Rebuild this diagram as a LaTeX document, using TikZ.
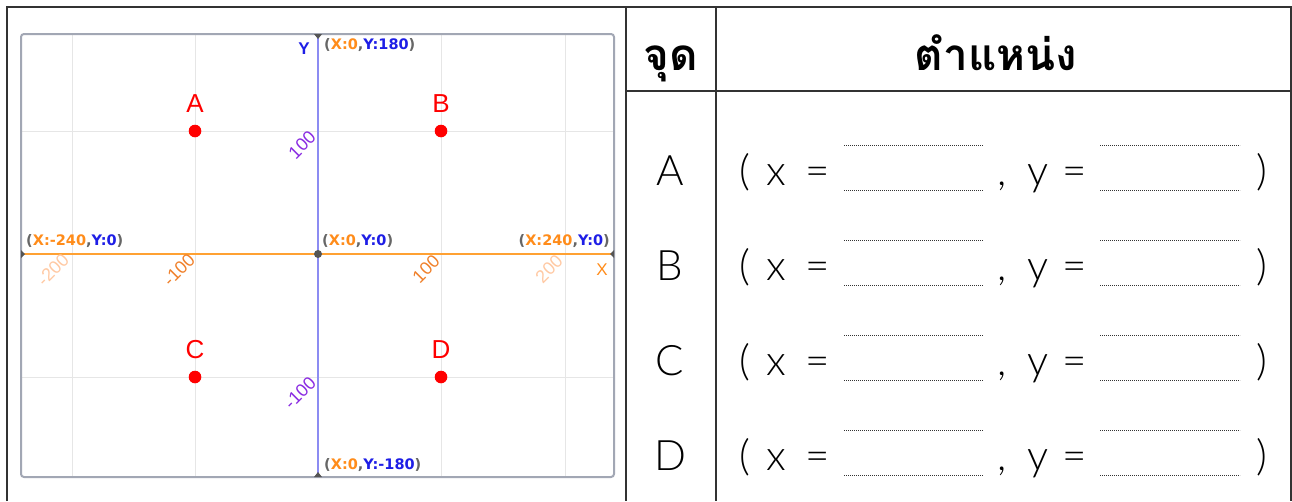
\documentclass[tikz,border=0pt]{standalone}
\usepackage{fontspec}
\usetikzlibrary{calc}
\setmainfont{Liberation Sans}
\newfontfamily\thaifont[Script=Thai]{Loma}
\newfontfamily\thinfont{Lato Light}
\newfontfamily\coordfont{DejaVu Sans}
\definecolor{framedark}{HTML}{333333}
\definecolor{stageedge}{HTML}{A2A7B4}
\definecolor{gridline}{HTML}{E6E6E6}
\definecolor{yaxiscol}{HTML}{8C8CF2}
\definecolor{xaxiscol}{HTML}{FFA133}
\definecolor{ytick}{HTML}{8A2BE2}
\definecolor{xtick}{HTML}{F0802A}
\definecolor{xtickpale}{HTML}{FFC9A3}
\definecolor{corange}{HTML}{FF8C1A}
\definecolor{cblue}{HTML}{1E1EE6}
\definecolor{cgray}{HTML}{666666}
\definecolor{markgray}{HTML}{555555}
\definecolor{ptred}{HTML}{FF0000}
\newcommand{\cxy}[2]{{\color{cgray}(}{\color{corange}X:#1}{\color{cgray},}{\color{cblue}Y:#2}{\color{cgray})}}
\begin{document}
\begin{tikzpicture}[x=1pt,y=-1pt,
  tableline/.style={draw=framedark,line width=1.6pt},
  gridl/.style={draw=gridline,line width=1pt},
  coordlbl/.style={font=\coordfont\bfseries\fontsize{14.5}{14.5}\selectfont,inner sep=0pt,anchor=west},
  ticklbl/.style={font=\fontsize{18}{18}\selectfont,rotate=45,inner sep=0pt},
  ptdot/.style={circle,fill=ptred,inner sep=0pt,minimum size=12.6pt},
  ptlbl/.style={text=ptred,font=\fontsize{26}{26}\selectfont,inner sep=0pt},
  endmark/.style={fill=markgray},
  thaihead/.style={font=\thaifont\bfseries\fontsize{44}{44}\selectfont,inner sep=0pt,anchor=base},
  rowtext/.style={font=\thinfont\fontsize{42}{42}\selectfont,inner sep=0pt,anchor=base},
  blank/.style={draw=black!80,line width=0.7pt,dash pattern=on 0.8pt off 1.2pt}]
\useasboundingbox (0,0) rectangle (1292,501);
\fill[white] (0,0) rectangle (1292,501);

% stage grid
\foreach \gx in {72,195,441,565} \draw[gridl] (\gx,34) -- (\gx,477);
\foreach \gy in {131,377} \draw[gridl] (21,\gy) -- (614,\gy);

% axes
\coordinate (ytop) at (318,34);
\coordinate (ybot) at (318,477);
\coordinate (xleft) at (21,254);
\coordinate (xright) at (614,254);
\coordinate (orig) at (318,254);
\draw[draw=yaxiscol,line width=1.6pt] (ytop) -- (ybot);
\draw[draw=xaxiscol,line width=1.6pt] (xleft) -- (xright);

% stage border
\draw[draw=stageedge,line width=2pt,rounded corners=3pt] (21,34) rectangle (614,477);

% end markers
\fill[endmark] (orig) circle (4pt);
\fill[endmark] ($(ytop)+(-4,0)$) -- ($(ytop)+(4,0)$) -- ($(ytop)+(0,5)$) -- cycle;
\fill[endmark] ($(ybot)+(-4,0)$) -- ($(ybot)+(4,0)$) -- ($(ybot)+(0,-5)$) -- cycle;
\fill[endmark] ($(xleft)+(0,-4)$) -- ($(xleft)+(0,4)$) -- ($(xleft)+(4,0)$) -- cycle;
\fill[endmark] ($(xright)+(0,-4)$) -- ($(xright)+(0,4)$) -- ($(xright)+(-4,0)$) -- cycle;

% axis names
\node[text=cblue,font=\bfseries\fontsize{17}{17}\selectfont,inner sep=0pt] (ylab) at (304,49) {Y};
\node[text=corange,font=\fontsize{17}{17}\selectfont,inner sep=0pt] (xlab) at (602,270) {X};

% tick labels
\node[ticklbl,text=ytick] (yt1) at (302,145) {100};
\node[ticklbl,text=ytick] (yt2) at (300,393) {-100};
\node[ticklbl,text=xtickpale] (xt1) at (53,270) {-200};
\node[ticklbl,text=xtick] (xt2) at (179,270) {-100};
\node[ticklbl,text=xtick] (xt3) at (426,269) {100};
\node[ticklbl,text=xtickpale] (xt4) at (549,269) {200};

% coordinate readouts
\node[coordlbl] (ctop) at (324,45) {\cxy{0}{180}};
\node[coordlbl] (cleft) at (26,241) {\cxy{-240}{0}};
\node[coordlbl] (corig) at (322,241) {\cxy{0}{0}};
\node[coordlbl,anchor=east] (cright) at (610,241) {\cxy{240}{0}};
\node[coordlbl] (cbot) at (324,465) {\cxy{0}{-180}};

% points
\foreach \nm/\px/\py in {A/195/131,B/441/131,C/195/377,D/441/377}{
  \node[ptdot] (dot\nm) at (\px,\py) {};
  \node[ptlbl] (lbl\nm) at (\px,\py-27) {\nm};
}

% table frame
\draw[tableline] (7,501) -- (7,7) -- (1291,7) -- (1291,501);
\draw[tableline] (626,7) -- (626,501);
\draw[tableline] (716,7) -- (716,501);
\draw[tableline] (626,91) -- (1291,91);

% header
\node[thaihead] (hpoint) at (671,70) {จุด};
\node[thaihead] (hpos) at (996,70) {ตำแหน่ง};

% rows: letter, brackets, signs and two dotted answer blanks
\foreach \nm/\ry in {A/185,B/280,C/375,D/470}{
  \node[rowtext] (row\nm) at (670,\ry) {\nm};
  \node[rowtext] (lp\nm) at (745,\ry) {(};
  \node[rowtext] (vx\nm) at (776.5,\ry) {x};
  \node[rowtext] (eqx\nm) at (817.5,\ry) {=};
  \node[rowtext] (cm\nm) at (1002,\ry) {,};
  \node[rowtext] (vy\nm) at (1038.5,\ry) {y};
  \node[rowtext] (eqy\nm) at (1075,\ry) {=};
  \node[rowtext] (rp\nm) at (1262,\ry) {)};
  \draw[blank] (844,\ry-40) -- (983,\ry-40);
  \draw[blank] (844,\ry+5) -- (983,\ry+5);
  \draw[blank] (1100,\ry-40) -- (1240,\ry-40);
  \draw[blank] (1100,\ry+5) -- (1240,\ry+5);
}
\end{tikzpicture}
\end{document}
